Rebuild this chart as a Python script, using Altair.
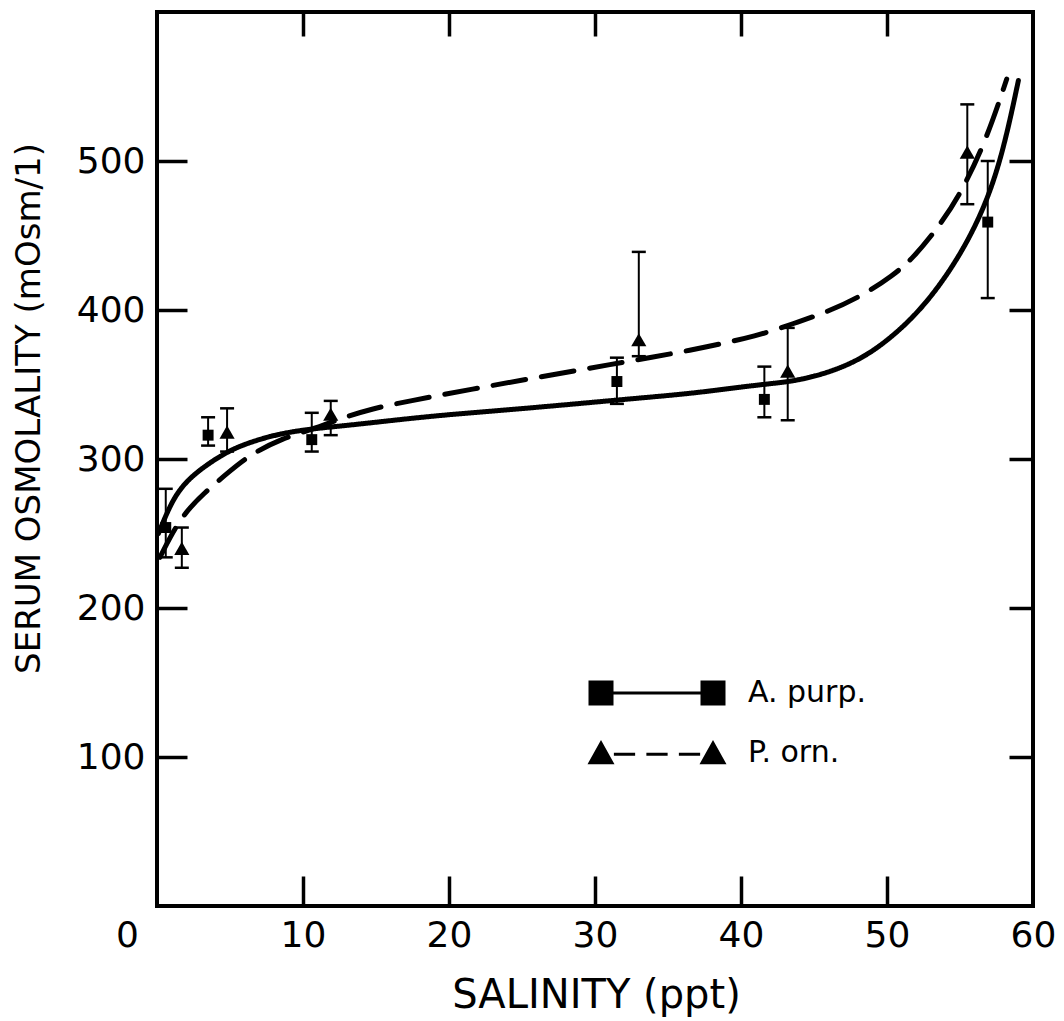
import altair as alt
import pandas as pd

FONT = "DejaVu Sans"

# ---- fitted curves ----
purp_curve_x = [0.1, 1.1, 2.2, 3.4, 4.5, 5.7, 7.9, 10.3, 12.5, 15.3, 19.0, 22.8, 27.6, 33.1,
                36.7, 41.3, 43.6, 45.9, 48.2, 50.4, 52.7, 55.0, 56.8, 58.0, 59.0]
purp_curve_y = [250, 274, 287, 296, 303, 309, 316, 320, 322, 325, 329, 332, 336, 341,
                344, 350, 352, 357.6, 366.7, 382, 404, 436, 471, 508, 554]

orn_curve_x = [0.2, 1.6, 3.2, 5.0, 6.4, 8.6, 10.7, 12.5, 14.8, 17.1, 21.6, 26.2, 30.8,
               36.7, 41.3, 43.6, 45.9, 48.2, 50.4, 51.8, 53.4, 55.0, 56.8, 58.2]
orn_curve_y = [234, 261, 277, 292, 303, 314, 320, 327, 334, 338.5, 347, 355, 363,
               373, 383, 391, 398.6, 409, 423, 435, 454, 477, 514, 555]

# ---- measured means with error bars ----
purp_x = [0.6, 3.5, 10.6, 31.5, 41.6, 56.9]
purp_y = [254, 316, 313, 352, 340, 459]
purp_lo = [234, 309, 305, 337, 328, 408]
purp_hi = [280, 328, 331, 368, 362, 500]

orn_x = [1.7, 4.8, 11.9, 33.0, 43.2, 55.5]
orn_y = [240, 318, 330, 380, 359, 506]
orn_lo = [227, 305, 316, 369, 326, 471]
orn_hi = [254, 334, 339, 439, 388, 538]

series = ["A. purp.", "P. orn."]
x_ticks = [0, 10, 20, 30, 40, 50, 60]
y_ticks = [100, 200, 300, 400, 500]
x_title = "SALINITY  (ppt)"
y_title = "SERUM OSMOLALITY  (mOsm/1)"

# ---- tables ----
curves_df = pd.concat([
    pd.DataFrame({"x": purp_curve_x, "y": purp_curve_y, "series": series[0]}),
    pd.DataFrame({"x": orn_curve_x, "y": orn_curve_y, "series": series[1]}),
], ignore_index=True)
points_df = pd.concat([
    pd.DataFrame({"x": purp_x, "y": purp_y, "lo": purp_lo, "hi": purp_hi, "series": series[0]}),
    pd.DataFrame({"x": orn_x, "y": orn_y, "lo": orn_lo, "hi": orn_hi, "series": series[1]}),
], ignore_index=True)
legend_df = pd.DataFrame({"series": series})

W, H = 876, 894
xs = alt.Scale(domain=[0, 60], nice=False, zero=False)
ys = alt.Scale(domain=[0, 600], nice=False)

inner_ticks = [v for v in x_ticks if 0 < v < 60]

# legend glyphs drawn as filled shapes: marker - line - marker (unit = half the symbol box)
PATH_SQ = ("M-5.48,-1L-3.48,-1L-3.48,1L-5.48,1Z "
           "M-3.5,-0.12L3.5,-0.12L3.5,0.12L-3.5,0.12Z "
           "M3.48,-1L5.48,-1L5.48,1L3.48,1Z")
PATH_TRI = ("M-4.48,-1.05L-3.4,0.9L-5.56,0.9Z "
            "M-3.45,-0.02L-1.75,-0.02L-1.75,0.22L-3.45,0.22Z "
            "M-0.85,-0.02L0.85,-0.02L0.85,0.22L-0.85,0.22Z "
            "M1.75,-0.02L3.45,-0.02L3.45,0.22L1.75,0.22Z "
            "M4.48,-1.05L5.56,0.9L3.4,0.9Z")

curves = alt.Chart(curves_df).mark_line(
    color="black", strokeWidth=5, interpolate="basis", strokeCap="round"
).encode(
    x=alt.X("x:Q", scale=xs, axis=alt.Axis(
        orient="bottom", values=x_ticks, ticks=False, domain=False, grid=False,
        labelFont=FONT, labelFontSize=36, labelColor="black", labelPadding=12,
        labelFlush=False,
        labelOffset={"condition": {"test": "datum.value === 0", "value": -30}, "value": 0},
        title=x_title, titleFont=FONT, titleFontSize=40, titleFontWeight="normal",
        titleColor="black", titleX=439, titleY=89, titleBaseline="middle", titleAlign="center")),
    y=alt.Y("y:Q", scale=ys, axis=alt.Axis(
        orient="left", values=y_ticks, ticks=False, domain=False, grid=False,
        labelFont=FONT, labelFontSize=36, labelColor="black", labelPadding=12,
        title=y_title, titleFont=FONT, titleFontSize=34, titleFontWeight="normal",
        titleColor="black", titleAngle=-90, titleX=-128, titleY=396,
        titleBaseline="middle", titleAlign="center")),
    strokeDash=alt.StrokeDash("series:N", scale=alt.Scale(domain=series, range=[[1, 0], [33, 16]]),
                              legend=None),
)

err = alt.Chart(points_df).mark_rule(color="black", strokeWidth=2).encode(
    x=alt.X("x:Q", scale=xs, axis=alt.Axis(
        orient="top", offset=-H, values=inner_ticks, labels=False, domain=False, grid=False,
        ticks=True, tickSize=30, tickWidth=3.5, tickColor="black", title=None)),
    y=alt.Y("lo:Q", scale=ys, axis=alt.Axis(
        orient="right", offset=-W, values=y_ticks, labels=False, domain=False, grid=False,
        ticks=True, tickSize=30, tickWidth=3.5, tickColor="black", title=None)),
    y2="hi:Q",
)

caps = alt.Chart(points_df).transform_fold(["lo", "hi"], as_=["end", "val"]).mark_tick(
    orient="horizontal", color="black", size=14, thickness=2.5, opacity=1
).encode(
    x=alt.X("x:Q", scale=xs, axis=alt.Axis(
        orient="bottom", offset=-H, values=inner_ticks, labels=False, domain=False, grid=False,
        ticks=True, tickSize=24, tickWidth=3.5, tickColor="black", title=None)),
    y=alt.Y("val:Q", scale=ys, axis=alt.Axis(
        orient="left", offset=-W, values=y_ticks, labels=False, domain=False, grid=False,
        ticks=True, tickSize=24, tickWidth=3.5, tickColor="black", title=None)),
)

pts = alt.Chart(points_df).mark_point(filled=True, color="black", opacity=1).encode(
    x=alt.X("x:Q", scale=xs, axis=None),
    y=alt.Y("y:Q", scale=ys, axis=None),
    shape=alt.Shape("series:N", scale=alt.Scale(domain=series, range=["square", "triangle-up"]),
                    legend=None),
    size=alt.Size("series:N", scale=alt.Scale(domain=series, range=[120, 230]), legend=None),
)

leg = alt.Chart(legend_df).transform_filter("false").mark_point(
    filled=True, color="black", opacity=1
).encode(
    shape=alt.Shape("series:N", scale=alt.Scale(domain=series, range=[PATH_SQ, PATH_TRI]),
                    legend=alt.Legend(
                        orient="none", legendX=485, legendY=666, title=None,
                        direction="vertical",
                        labelFont=FONT, labelFontSize=30, labelColor="black", labelOffset=76,
                        symbolSize=625, symbolStrokeWidth=0, symbolFillColor="black",
                        symbolOpacity=1, rowPadding=30, padding=0)),
)

chart = alt.layer(curves, err, caps, pts, leg).resolve_axis(
    x="independent", y="independent"
).resolve_scale(
    shape="independent", size="independent"
).properties(
    width=W, height=H,
    autosize=alt.AutoSizeParams(type="none"),
    padding={"left": 157, "top": 12, "right": 31, "bottom": 115},
    background="white",
).configure_view(
    stroke="black", strokeWidth=4
).configure_axis(grid=False)

chart.save("out.html", embed_options={"renderer": "svg", "actions": False})
